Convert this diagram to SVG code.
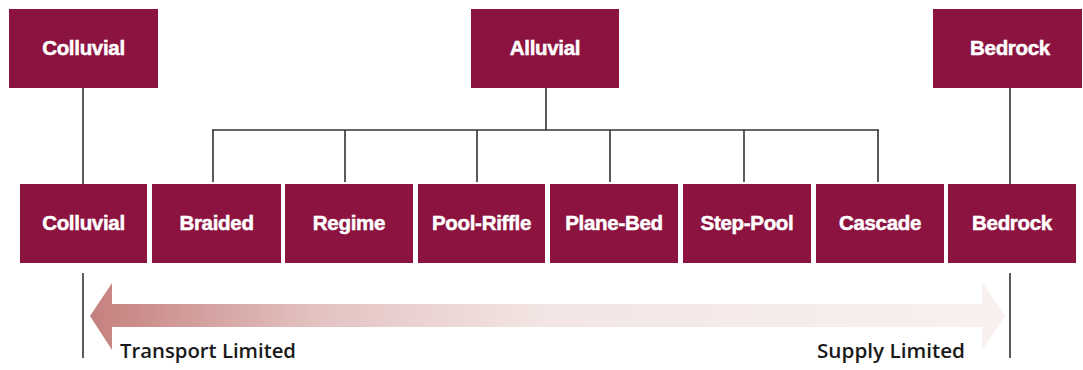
<svg xmlns="http://www.w3.org/2000/svg" width="1083" height="370" viewBox="0 0 1083 370">
  <defs>
    <linearGradient id="arrowGrad" x1="90" y1="0" x2="1005" y2="0" gradientUnits="userSpaceOnUse">
      <stop offset="0" stop-color="#c5807e"/>
      <stop offset="0.25" stop-color="#e3c3c1"/>
      <stop offset="0.5" stop-color="#f3e6e4"/>
      <stop offset="1" stop-color="#f8f1f0"/>
    </linearGradient>
    <style>
      .box { fill: #8c1340; }
      .lbl { font-family: "Liberation Sans", Arial, sans-serif; font-weight: bold; font-size: 20.5px; fill: #ffffff; stroke: #ffffff; stroke-width: 0.5; text-anchor: middle; letter-spacing: -0.3px; }
      .conn { stroke: #333333; stroke-width: 1.6; fill: none; }
      .cap { font-family: "Open Sans", "Liberation Sans", sans-serif; font-weight: 600; font-size: 20px; fill: #1a1a1a; }
    </style>
  </defs>
  <rect width="1083" height="370" fill="#ffffff"/>

  <g id="connectors">
    <line class="conn" x1="83" y1="88" x2="83" y2="184"/>
    <line class="conn" x1="546" y1="88" x2="546" y2="130"/>
    <line class="conn" x1="212" y1="130" x2="879" y2="130"/>
    <line class="conn" x1="213" y1="130" x2="213" y2="182"/>
    <line class="conn" x1="345" y1="130" x2="345" y2="182"/>
    <line class="conn" x1="477" y1="130" x2="477" y2="182"/>
    <line class="conn" x1="610" y1="130" x2="610" y2="182"/>
    <line class="conn" x1="744" y1="130" x2="744" y2="182"/>
    <line class="conn" x1="878" y1="130" x2="878" y2="182"/>
    <line class="conn" x1="1010" y1="88" x2="1010" y2="184"/>
    <line class="conn" x1="83" y1="273" x2="83" y2="358"/>
    <line class="conn" x1="1010" y1="273" x2="1010" y2="358"/>
  </g>

  <g id="arrow">
    <polygon points="90,316 112,283 112,304 982,304 982,282 1005,316 982,350 982,327 112,327 112,350" fill="url(#arrowGrad)"/>
  </g>

  <g id="top-colluvial"><rect class="box" x="9" y="9" width="149" height="79"/><text class="lbl" x="83.5" y="55">Colluvial</text></g>
  <g id="top-alluvial"><rect class="box" x="471" y="9" width="148" height="79"/><text class="lbl" x="545" y="55">Alluvial</text></g>
  <g id="top-bedrock"><rect class="box" x="933" y="9" width="149" height="79"/><text class="lbl" x="1010" y="55">Bedrock</text></g>

  <g id="colluvial"><rect class="box" x="20" y="184" width="127" height="79"/><text class="lbl" x="83.5" y="230">Colluvial</text></g>
  <g id="braided"><rect class="box" x="152" y="184" width="129" height="79"/><text class="lbl" x="216.5" y="230">Braided</text></g>
  <g id="regime"><rect class="box" x="285" y="184" width="128" height="79"/><text class="lbl" x="349" y="230">Regime</text></g>
  <g id="pool-riffle"><rect class="box" x="418" y="184" width="127" height="79"/><text class="lbl" x="481.5" y="230">Pool-Riffle</text></g>
  <g id="plane-bed"><rect class="box" x="550" y="184" width="128" height="79"/><text class="lbl" x="614" y="230">Plane-Bed</text></g>
  <g id="step-pool"><rect class="box" x="683" y="184" width="128" height="79"/><text class="lbl" x="747" y="230">Step-Pool</text></g>
  <g id="cascade"><rect class="box" x="816" y="184" width="128" height="79"/><text class="lbl" x="880" y="230">Cascade</text></g>
  <g id="bedrock"><rect class="box" x="948" y="184" width="128" height="79"/><text class="lbl" x="1012" y="230">Bedrock</text></g>

  <g id="captions">
    <text class="cap" x="120" y="358" textLength="176" lengthAdjust="spacingAndGlyphs">Transport Limited</text>
    <text class="cap" x="817" y="358" textLength="148" lengthAdjust="spacingAndGlyphs">Supply Limited</text>
  </g>
</svg>
